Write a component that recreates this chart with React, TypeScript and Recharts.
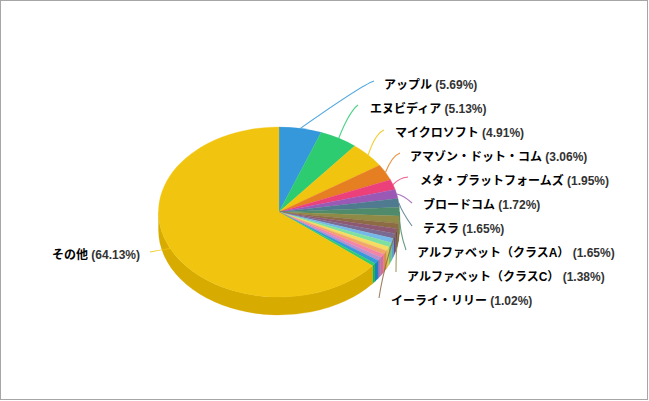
import React from "react";
import { PieChart, Pie } from "recharts";

const names = [
  "アップル", "エヌビディア", "マイクロソフト", "アマゾン・ドット・コム", "メタ・プラットフォームズ", "ブロードコム",
  "テスラ", "アルファベット（クラスA）", "アルファベット（クラスC）", "イーライ・リリー",
  "", "", "", "", "", "", "", "", "", "", "その他",
];
const values = [
  5.69, 5.13, 4.91, 3.06, 1.95, 1.72, 1.65, 1.65, 1.38, 1.02,
  0.98, 0.92, 0.85, 0.82, 0.78, 0.75, 0.72, 0.68, 0.68, 0.53, 64.13,
];
const colors = [
  "#3498db", "#2ecc71", "#f1c40f", "#e67e22", "#ec407a", "#9b59b6",
  "#4f7a8f", "#4f8a6b", "#8f8a45", "#8c6b45", "#8c5872", "#7a6a92",
  "#74b9e8", "#7de0a0", "#f5dc60", "#f0a868", "#f585a5", "#b98fd0",
  "#3498db", "#2ecc71", "#f1c40f",
];
// label placement: [connector end x, end y, bend x, bend y, text x, text y]
const labelLayout = [
  [374, 81, 362, 85, 384, 89],
  [358, 105, 349, 112, 370, 113],
  [384, 130, 375, 134, 395, 137],
  [400, 153, 392, 156, 410, 161],
  [408, 177, 399, 178, 420, 185],
  [412, 203, 403, 195, 423, 209],
  [412, 226, 402, 212, 423, 233],
  [406, 250, 399, 230, 417, 257],
  [396, 272, 396, 245, 407, 281],
  [379, 298, 384, 265, 391, 305],
];
const otherLayout = [150, 252, 160, 250, 140, 259];

const chartData = names.map((name, i) => ({ name, value: values[i], fill: colors[i] }));

const CX = 279;
const CY = 212;
const RX = 120.5;
const RY = 85;
const DEPTH = 18;
const rad = Math.PI / 180;
const px = (a: number) => CX + RX * Math.cos(a * rad);
const py = (a: number) => CY - RY * Math.sin(a * rad);

const darken = (hex: string) => {
  const n = parseInt(hex.slice(1), 16);
  const c = (s: number) => Math.max(0, ((n >> s) & 255) - 25).toString(16).padStart(2, "0");
  return `#${c(16)}${c(8)}${c(0)}`;
};

const Slice3D = (props: any) => {
  const { startAngle, endAngle, fill } = props;
  const large = Math.abs(startAngle - endAngle) > 180 ? 1 : 0;
  const top = `M${CX} ${CY}L${px(startAngle)} ${py(startAngle)}A${RX} ${RY} 0 ${large} 1 ${px(endAngle)} ${py(endAngle)}Z`;
  // the side wall is only visible on the front half (math angle 0 to -180)
  const a1 = Math.min(startAngle, 0);
  const a2 = Math.max(endAngle, -180);
  let wall = null;
  if (a1 > a2) {
    const lg = a1 - a2 > 180 ? 1 : 0;
    const d = `M${px(a1)} ${py(a1)}A${RX} ${RY} 0 ${lg} 1 ${px(a2)} ${py(a2)}L${px(a2)} ${py(a2) + DEPTH}A${RX} ${RY} 0 ${lg} 0 ${px(a1)} ${py(a1) + DEPTH}Z`;
    wall = <path d={d} fill={darken(fill)} stroke={darken(fill)} strokeWidth={0.3} />;
  }
  return (
    <g>
      {wall}
      <path d={top} fill={fill} stroke={fill} strokeWidth={0.3} />
    </g>
  );
};

const renderLabel = (props: any) => {
  const { index, midAngle, payload } = props;
  const name = payload?.name ?? props.name;
  if (!name) return null;
  const isOther = index === names.length - 1;
  const [ex, ey, bx, by, tx, ty] = isOther ? otherLayout : labelLayout[index];
  const value = values[index];
  return (
    <g>
      <path
        d={`M${px(midAngle)} ${py(midAngle)}Q${bx} ${by} ${ex} ${ey}`}
        fill="none"
        stroke={colors[index]}
        strokeOpacity={0.85}
        strokeWidth={1.1}
      />
      <text
        x={tx}
        y={ty}
        textAnchor={isOther ? "end" : "start"}
        style={{ fontFamily: "'Liberation Sans', 'Noto Sans CJK JP', sans-serif", fontSize: 12, fontWeight: 700 }}
        fill="#333333"
      >
        <tspan fill="#000000">{name}</tspan>
        {` (${value.toFixed(2)}%)`}
      </text>
    </g>
  );
};

export default function App() {
  return (
    <div
      style={{
        position: "absolute",
        left: 0,
        top: 0,
        width: 648,
        height: 400,
        boxSizing: "border-box",
        border: "1px solid #a6a6a6",
        background: "#fff",
        overflow: "hidden",
      }}
    >
      <div style={{ position: "absolute", left: -1, top: -1 }}>
        <PieChart width={648} height={400} margin={{ top: 0, right: 0, bottom: 0, left: 0 }}>
          <Pie
            data={chartData}
            dataKey="value"
            nameKey="name"
            cx={CX}
            cy={CY}
            outerRadius={RX}
            startAngle={90}
            endAngle={-270}
            stroke="none"
            shape={Slice3D}
            label={renderLabel}
            labelLine={false}
            isAnimationActive={false}
          />
        </PieChart>
      </div>
    </div>
  );
}
